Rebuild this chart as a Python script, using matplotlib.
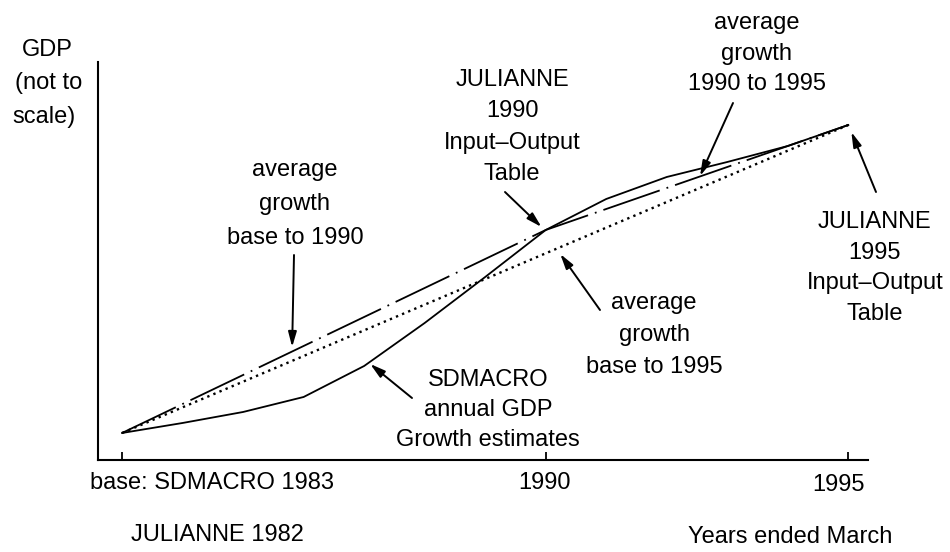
import numpy as np
import matplotlib
matplotlib.use('Agg')
import matplotlib.pyplot as plt

# schematic GDP paths (index height above axis, not to scale)
years = [1983, 1984, 1985, 1986, 1987, 1988, 1989, 1990, 1991, 1992, 1993, 1994, 1995]
sdmacro = [27, 37, 48, 63, 94, 137, 183, 230, 261, 283, 298, 314, 335]
avg_base_1990_x = [1983, 1990, 1995]
avg_base_1990_y = [27, 230, 335]
avg_base_1995_x = [1983, 1995]
avg_base_1995_y = [27, 335]

plt.rcParams['font.family'] = ['Liberation Sans', 'DejaVu Sans']
FS = 17

fig = plt.figure(figsize=(9.5, 5.52), dpi=100)
ax = fig.add_axes([0.103, 0.1667, 0.811, 0.721])

ax.plot(years, sdmacro, color='k', lw=1.3)
ax.plot(avg_base_1990_x, avg_base_1990_y, color='k', lw=1.3, linestyle=(0, (33, 4, 1, 4)))
ax.plot(avg_base_1995_x, avg_base_1995_y, color='k', lw=1.7, linestyle=(0, (1, 1.8)))

ax.set_xlim(1982.60, 1995.33)
ax.set_ylim(0, 398)
for s in ['top', 'right']:
    ax.spines[s].set_visible(False)
for s in ['left', 'bottom']:
    ax.spines[s].set_linewidth(1.5)
ax.set_yticks([])
ax.set_xticks([1983, 1990, 1995])
ax.set_xticklabels([])
ax.tick_params(axis='x', direction='in', length=6, width=1.3)

H = 552
def fp(px, py):
    return (px, H - py)

# axis texts
fig.text(47, H - 50, 'GDP', fontsize=FS, ha='center', va='center', transform=None)
fig.text(82, H - 83, '(not to', fontsize=FS, ha='right', va='center', transform=None)
fig.text(76, H - 117, 'scale)', fontsize=FS, ha='right', va='center', transform=None)
fig.text(90, H - 483, 'base: SDMACRO 1983', fontsize=FS, ha='left', va='center', transform=None)
fig.text(544, H - 483, '1990', fontsize=FS, ha='center', va='center', transform=None)
fig.text(838, H - 485, '1995', fontsize=FS, ha='center', va='center', transform=None)
fig.text(217, H - 535, 'JULIANNE 1982', fontsize=FS, ha='center', va='center', transform=None)
fig.text(790, H - 537, 'Years ended March', fontsize=FS, ha='center', va='center', transform=None)

arrow = dict(arrowstyle='-|>,head_length=0.9,head_width=0.25', color='k', lw=1.4, shrinkA=0, shrinkB=0)

def label(txt, tx, ty, tip, tail, ls=1.6):
    fig.text(tx, H - ty, txt, fontsize=FS, ha='center', va='center',
             linespacing=ls, transform=None)
    ax.annotate('', xy=tip, xycoords='data', xytext=fp(*tail),
                textcoords='figure pixels', arrowprops=arrow)

label('average\ngrowth\nbase to 1990', 295, 204, (1985.81, 113), (294, 255), 1.68)
label('JULIANNE\n1990\nInput\u2013Output\nTable', 512, 127, (1989.93, 233), (505, 192), 1.55)
label('average\ngrowth\n1990 to 1995', 757, 54, (1992.55, 284), (733, 103), 1.5)
label('JULIANNE\n1995\nInput\u2013Output\nTable', 875, 268, (1995.05, 328), (876, 192), 1.5)
label('average\ngrowth\nbase to 1995', 654, 335, (1990.24, 206), (600, 310), 1.6)
label('SDMACRO\nannual GDP\nGrowth estimates', 488, 410, (1987.1, 96), (412, 398), 1.5)

fig.savefig('out.png', dpi=100)
